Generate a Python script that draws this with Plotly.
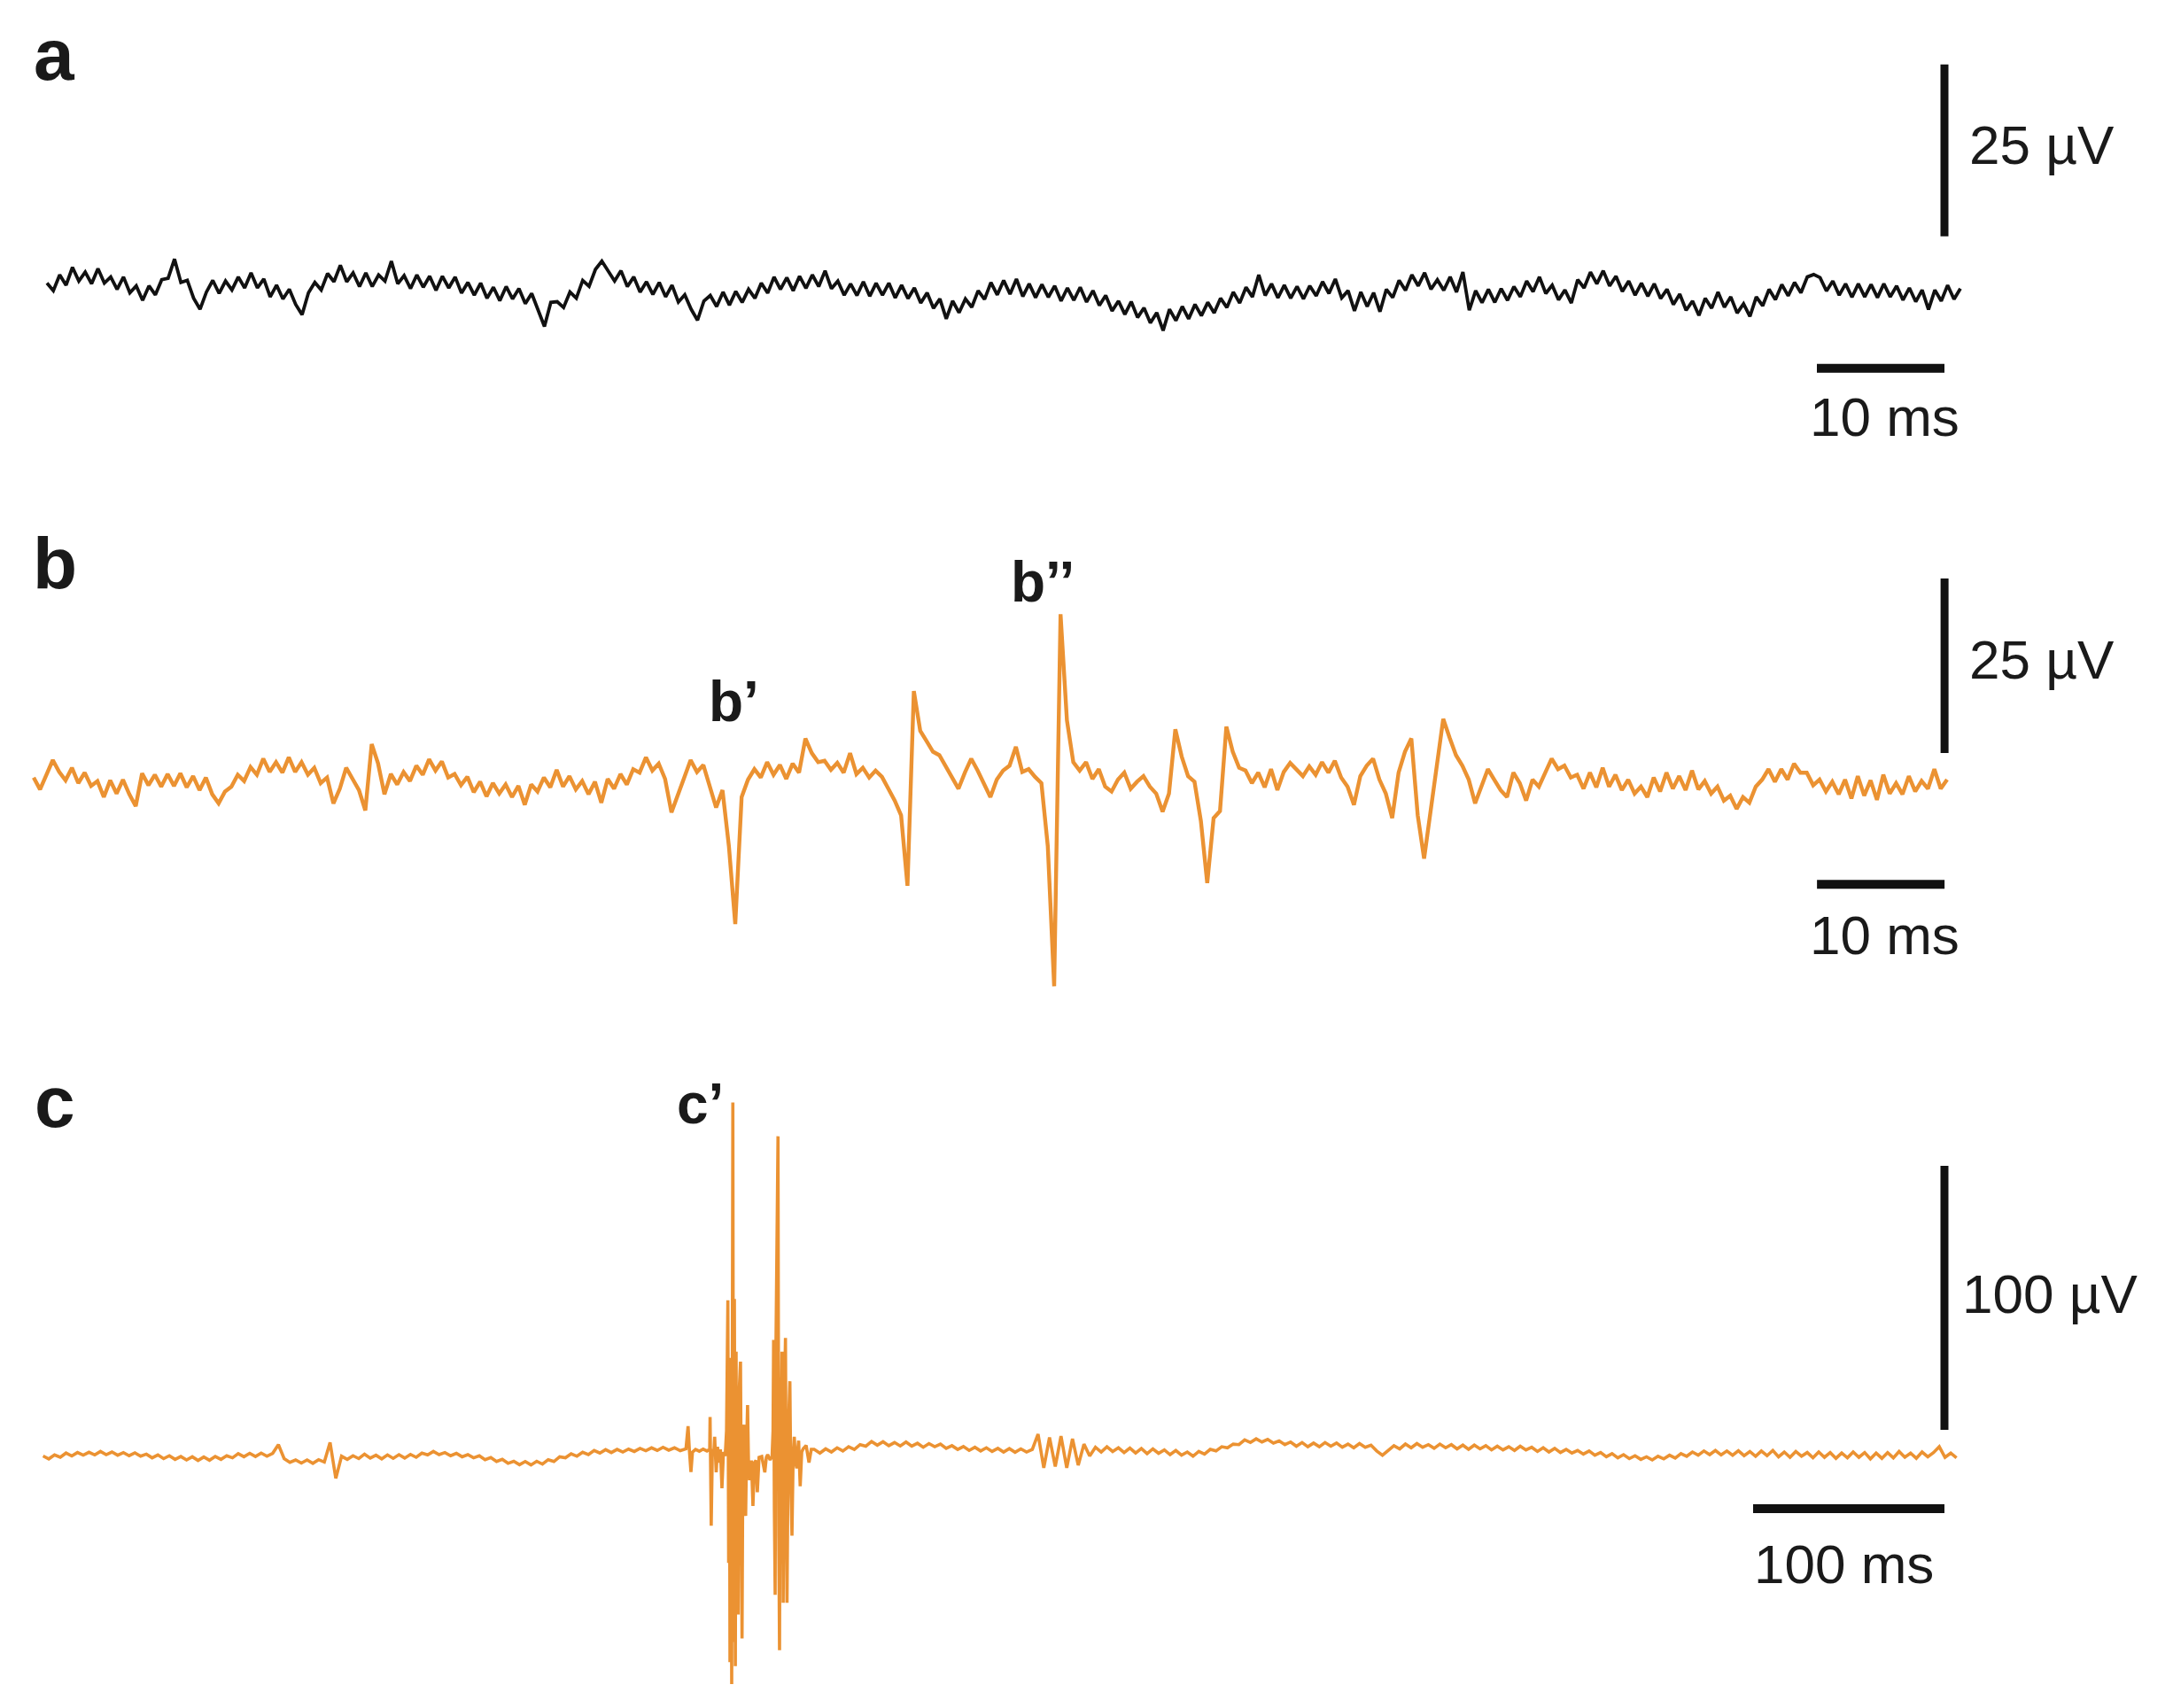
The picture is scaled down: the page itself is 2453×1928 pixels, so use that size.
import numpy as np
import plotly.graph_objects as go

# ---------------- data (µV) ----------------
# panel a: black trace, sampled every 0.5 ms
A_DT_MS = 0.5
a_uv = [1.6, 0.5, 2.8, 1.3, 3.9, 1.9, 3.2, 1.5, 3.7, 1.6, 2.5, 0.7, 2.5, 0.2, 1.2, -0.9,
        1.2, -0.1, 2.1, 2.3, 5.1, 1.7, 2.0, -0.6, -2.2, 0.3, 2.0, 0.1, 1.9, 0.6, 2.5, 0.9,
        3.1, 0.9, 2.2, -0.4, 1.3, -0.7, 0.7, -1.5, -3.0, 0.2, 1.7, 0.6, 3.0, 1.8, 4.2, 1.8,
        3.1, 1.1, 3.1, 1.1, 2.8, 1.9, 4.8, 1.5, 2.7, 0.8, 2.8, 1.0, 2.6, 0.55, 2.6, 0.9,
        2.5, 0.15, 1.7, -0.15, 1.6, -0.6, 1.0, -0.95, 1.1, -0.7, 0.8, -1.4, 0.1, -2.2,
        -4.7, -1.2, -1.1, -1.95, 0.3, -0.6, 2.0, 1.15, 3.6, 4.8, 3.4, 1.9, 3.4, 1.1, 2.5, 0.3,
        1.8, -0.05, 1.7, -0.4, 1.3, -1.15, -0.1, -2.2, -3.8, -1.0, -0.2, -1.8, 0.3, -1.6,
        0.4, -1.2, 0.7, -0.6, 1.6, 0.15, 2.5, 0.7, 2.4, 0.5, 2.6, 0.85, 2.8, 1.1, 3.4, 0.8,
        1.9, -0.15, 1.5, -0.2, 1.8, -0.3, 1.6, -0.15, 1.6, -0.55, 1.3, -0.65, 0.9, -1.3,
        0.2, -2.05, -0.7, -3.6, -1.0, -2.7, -0.7, -1.9, 0.5, -0.75, 1.7, -0.1, 2.0, 0.0,
        2.2, -0.35, 1.5, -0.5, 1.4, -0.45, 1.2, -1.0, 0.9, -0.9, 1.0, -1.15, 0.5, -1.65,
        -0.2, -2.45, -1.0, -2.95, -1.1, -3.4, -2.0, -4.2, -2.7, -5.3, -2.2, -3.85, -1.8, -3.6,
        -1.5, -3.15, -1.2, -2.75, -0.6, -1.95, 0.3, -1.3, 1.0, -0.4, 2.8, -0.2, 1.5, -0.55,
        1.3, -0.6, 1.1, -0.7, 1.2, -0.25, 1.8, 0.1, 2.2, -0.55, 0.5, -2.45, 0.3, -1.8,
        0.2, -2.55, 0.7, -0.5, 2.0, 0.55, 2.8, 1.2, 3.1, 0.7, 2.1, 0.55, 2.5, 0.3, 3.2, -2.35,
        0.5, -1.25, 0.7, -1.2, 0.8, -0.9, 1.1, -0.4, 1.9, 0.35, 2.5, 0.1, 1.3, -0.85, 0.6, -1.3,
        2.1, 0.9, 3.2, 1.5, 3.4, 1.2, 2.6, 0.4, 1.9, -0.15, 1.6, -0.3, 1.5, -0.65, 0.7, -1.5,
        0.0, -2.35, -1.0, -3.1, -0.6, -2.05, 0.3, -1.9, -0.4, -2.75, -1.4, -3.25, -0.4, -1.7,
        0.7, -0.8, 1.4, -0.25, 1.7, 0.2, 2.5, 2.85, 2.4, 0.45, 1.9, -0.15, 1.5, -0.45,
        1.5, -0.4, 1.4, -0.5, 1.5, -0.4, 1.2, -0.85, 0.9, -1.1, 0.6, -2.25, 0.6, -1.0,
        1.3, -0.75, 0.8]

# panel b: orange trace, sampled every 0.5 ms
B_DT_MS = 0.5
b_uv = [0.8, -0.9, 1.2, 3.3, 1.6, 0.4, 2.2, 0.0, 1.5, -0.4, 0.3, -2.0, 0.4, -1.5, 0.5, -1.6,
        -3.3, 1.4, -0.3, 1.2, -0.5, 1.3, -0.4, 1.4, -0.6, 1.0, -1.0, 0.8, -1.6, -2.9, -1.2, -0.5,
        1.2, 0.3, 2.3, 1.2, 3.5, 1.6, 3.0, 1.5, 3.7, 1.6, 3.0, 1.2, 2.2, 0.0, 0.8, -2.9,
        -0.8, 2.2, 0.6, -1.0, -3.9, 5.6, 2.8, -1.6, 1.3, -0.2, 1.6, 0.3, 2.5, 1.2, 3.4, 1.8,
        3.1, 0.8, 1.3, -0.3, 0.9, -1.3, 0.2, -1.9, 0.0, -1.5, -0.2, -2.0, -0.4, -3.1, -0.2, -1.2,
        0.8, -0.6, 1.9, -0.5, 1.0, -0.9, 0.3, -1.6, 0.2, -2.8, 0.6, -0.8, 1.3, -0.2, 2.0, 1.5,
        3.7, 1.8, 2.8, 0.6, -4.2, -1.5, 0.8, 3.3, 1.6, 2.6, -0.3, -3.5, -1.0, -9.0, -20.2, -2.0,
        0.5, 2.0, 0.8, 3.0, 1.2, 2.6, 0.6, 2.8, 1.5, 6.4, 4.3, 3.0, 3.2, 1.9, 2.9, 1.5,
        4.3, 1.3, 2.2, 0.8, 1.8, 0.9, -0.8, -2.5, -4.6, -14.7, 13.2, 7.5, 6.0, 4.5, 4.0, 2.4,
        1.0, -0.8, 1.5, 3.5, 1.8, 0.0, -2.0, 0.5, 1.8, 2.5, 5.2, 1.6, 2.0, 0.9, 0.0, -9.0,
        -29.1, 24.2, 9.0, 3.0, 1.8, 3.0, 0.6, 2.0, -0.5, -1.2, 0.5, 1.5, -0.8, 0.2, 1.0, -0.5,
        -1.5, -4.1, -1.5, 7.7, 3.8, 1.0, 0.2, -5.4, -14.3, -5.0, -4.0, 8.1, 4.5, 2.2, 1.8, 0.0,
        1.5, -0.6, 2.0, -1.0, 1.6, 2.9, 2.0, 1.0, 2.4, 1.2, 3.0, 1.5, 3.2, 0.8, -0.5, -3.1,
        1.0, 2.5, 3.5, 0.5, -1.5, -5.0, 1.5, 4.5, 6.4, -4.6, -10.8, -4.0, 3.0, 9.2, 6.5, 4.0,
        2.5, 0.5, -2.9, -0.5, 2.0, 0.5, -1.0, -2.0, 1.5, 0.0, -2.5, 0.5, -0.5, 1.5, 3.5, 2.0,
        2.5, 0.8, 1.2, -0.8, 1.5, -0.6, 2.2, -0.5, 1.2, -1.0, 0.5, -1.5, -0.5, -2.0, 0.8, -1.2,
        1.5, -0.8, 1.0, -1.0, 1.8, -0.9, 0.3, -1.5, -0.5, -2.5, -1.8, -3.7, -2.0, -2.8, -0.5, 0.5,
        2.0, 0.2, 2.0, 0.5, 2.8, 1.5, 1.5, -0.3, 0.5, -1.2, 0.2, -1.6, 0.5, -2.2, 1.0, -1.8,
        0.4, -2.4, 1.2, -1.5, 0.0, -1.6, 1.0, -1.2, 0.3, -0.8, 2.0, -0.8, 0.5]

# panel c: orange trace; quiet part before the burst, sampled every 3 ms from 0 ms
C_PRE_DT_MS = 3
c_pre_uv = [0.5, -0.6, 0.9, 0.0, 1.6, 0.5, 1.8, 0.8, 1.9, 0.9, 2.2, 1.0, 2.0, 0.8, 1.8, 0.6,
            1.7, 0.4, 1.2, -0.2, 0.9, -0.5, 0.6, -0.8, 0.3, -1.0, 0.2, -1.2, 0.1, -1.1, 0.3, -0.8,
            0.6, -0.2, 1.4, 0.2, 1.5, 0.3, 1.6, 0.4, 1.5, 4.8, -0.5, -1.9, -1.0, -2.2, -1.0, -2.3,
            -0.9, -1.8, 5.6, -8.0, 0.4, -0.8, 0.6, -0.5, 1.2, -0.3, 0.8, -0.6, 0.9, -0.4, 1.0, -0.3,
            1.1, 0.0, 1.6, 0.9, 2.2, 1.0, 1.8, 0.6, 1.5, 0.2, 1.0, -0.2, 0.6, -0.9, -0.1, -1.6,
            -0.8, -2.3, -1.5, -2.8, -1.6, -2.9, -1.5, -2.6, -0.9, -1.6, 0.2, -0.2, 1.3, 0.4, 1.9, 1.0,
            2.6, 1.6, 2.9, 1.8, 3.0, 2.0, 3.1, 2.2, 3.4, 2.5, 3.6, 2.6, 3.8, 2.7, 3.6, 2.5, 3.2]

# panel c: spike burst (c'), irregular sampling
c_burst_ms = [337.1, 337.8, 338.6, 339.4, 341.0, 343.0, 345.0, 347.0, 348.4, 348.6, 349.2, 349.8,
              350.5, 351.0, 351.8, 352.5, 353.2, 354.0, 354.8, 355.6, 356.5, 357.2, 357.9, 358.3,
              358.7, 359.0, 359.5, 359.9, 360.5, 360.9, 361.3, 361.8, 362.2, 362.5, 362.9, 363.3,
              363.8, 364.5, 364.9, 365.3, 365.8, 366.4, 366.8, 367.2, 367.7, 368.2, 368.7, 369.2,
              370.2, 371.0, 371.8, 372.6, 373.3, 374.2, 375.6, 376.4, 377.2, 378.0, 378.7, 380.0,
              381.0, 381.5, 381.8, 382.2, 382.6, 383.0, 383.4, 384.1, 384.5, 384.9, 385.3, 385.7,
              386.2, 386.8, 387.4, 388.0, 388.4, 388.8, 389.5, 390.3, 390.8, 391.4, 392.0, 392.6,
              393.3, 393.9, 394.4, 394.9, 395.3, 395.7, 396.5, 397.3, 398.8, 400.3, 401.5]
c_burst_uv = [11.8, 2.5, -5.6, 2.0, 3.0, 2.3, 3.1, 2.4, 3.0, 15.3, -25.9, 3.0,
              1.0, 7.8, -5.7, 4.0, -2.0, 3.0, -11.7, 2.0, 0.5, 10.0, 59.5, -40.0,
              30.0, -77.6, 37.7, -85.9, 134.4, -70.0, 60.0, -79.1, 40.0, -55.0, 12.3, -59.6,
              25.0, 36.2, -40.0, -68.6, 10.0, 12.3, -15.0, -22.2, 5.0, 19.8, -3.0, -8.7,
              -1.2, -18.4, -2.0, -1.2, -13.2, 0.0, 0.3, -3.0, -5.7, 0.0, 1.0, -1.0,
              0.3, 10.0, 44.5, -20.0, -52.1, 40.0, 80.0, 121.6, -30.0, -73.1, 30.0, 12.3,
              40.0, -55.1, 20.0, 45.2, -20.0, -55.1, 10.0, 28.8, -10.0, -29.7, 0.0, 7.8,
              -2.0, -4.2, 3.0, 6.3, -3.0, -11.0, 2.0, 3.3, 4.5, -2.0, 3.0]

# panel c: quiet part after the burst, sampled every 3 ms from 403 ms
C_POST_T0_MS = 403
C_POST_DT_MS = 3
c_post_uv = [3.0, 1.6, 3.2, 2.0, 3.6, 2.4, 4.0, 3.0, 4.8, 4.2, 6.0, 4.6, 5.9, 4.4, 5.6, 4.3,
             5.8, 4.2, 5.3, 3.8, 5.2, 4.0, 5.0, 3.4, 4.4, 3.0, 4.1, 2.6, 3.8, 2.4, 3.6, 2.2,
             3.4, 2.0, 3.3, 1.9, 3.2, 2.0, 3.0, 8.8, -4.0, 7.5, -3.5, 8.0, -4.0, 7.0, -3.0, 5.0,
             0.5, 3.8, 2.0, 4.0, 2.2, 3.6, 1.8, 3.5, 1.6, 3.3, 1.4, 3.2, 1.5, 2.8, 1.0, 2.6,
             0.8, 2.0, 0.4, 2.2, 1.2, 3.0, 2.4, 4.0, 3.6, 5.0, 4.8, 6.6, 5.6, 7.0, 5.8, 6.8,
             5.4, 6.2, 4.8, 5.8, 4.2, 5.6, 4.0, 5.4, 4.0, 5.6, 4.2, 5.4, 3.8, 5.0, 3.6, 5.2,
             3.8, 4.6, 2.4, 0.8, 2.8, 4.4, 3.2, 5.0, 3.6, 5.2, 3.8, 4.8, 3.4, 5.0, 3.6, 4.8,
             3.2, 4.6, 3.0, 4.6, 3.2, 4.4, 2.8, 4.2, 2.8, 4.0, 2.6, 4.2, 2.8, 3.8, 2.2, 3.6,
             2.0, 3.4, 1.8, 3.0, 1.6, 2.6, 1.2, 2.4, 0.8, 1.8, 0.2, 1.4, -0.2, 1.0, -0.5, 0.6,
             -0.8, 0.2, -1.0, 0.4, -0.6, 0.8, -0.3, 1.4, 0.4, 2.0, 0.8, 2.4, 1.0, 2.6, 0.9, 2.4,
             0.8, 2.5, 0.6, 2.2, 0.4, 2.4, 0.6, 2.6, 0.2, 2.0, 0.0, 2.2, 0.4, 1.8, -0.2, 2.0,
             0.0, 1.8, -0.4, 1.6, -0.2, 2.0, 0.0, 1.8, -0.6, 1.6, -0.4, 1.8, -0.2, 2.2, 0.0, 1.6,
             -0.4, 2.0, 0.2, 1.8, 4.0, 0.0, 1.6, -0.2]

# scale bars: (time length ms, voltage length µV) per panel
scale_time_ms = [10, 10, 100]
scale_volt_uv = [25, 25, 100]
scale_time_labels = ["10 ms", "10 ms", "100 ms"]
scale_volt_labels = ["25 µV", "25 µV", "100 µV"]
panel_labels = ["a", "b", "c"]

# ---------------- geometry (pixels in a 2453 x 1928 page) ----------------
W, H = 2453, 1928
BLACK = "#111111"
ORANGE = "#EB9232"

# per panel: x pixel of t=0, px per ms, y pixel of 0 µV, px per µV, panel band (top, bottom)
geo = [
    dict(x0=53.0, pxms=14.4, y0=332.0, pxuv=7.76, top=0, bot=560),
    dict(x0=38.0, pxms=14.4, y0=884.0, pxuv=7.88, top=560, bot=1150),
    dict(x0=48.6, pxms=2.16, y0=1645.0, pxuv=2.98, top=1150, bot=1928),
]
# scale bar anchors in data units: t of right end, bottom of vertical bar, level of horizontal bar
bars = [
    dict(t_end=148.75, v_bot=8.4, h_level=-10.8),
    dict(t_end=149.8, v_bot=4.3, h_level=-14.5),
    dict(t_end=993.7, v_bot=10.4, h_level=-19.5),
]

t_a = np.arange(len(a_uv)) * A_DT_MS
t_b = np.arange(len(b_uv)) * B_DT_MS
t_c_pre = np.arange(len(c_pre_uv)) * C_PRE_DT_MS
t_c_post = C_POST_T0_MS + np.arange(len(c_post_uv)) * C_POST_DT_MS
t_c = np.concatenate([t_c_pre, np.array(c_burst_ms), t_c_post])
v_c = np.concatenate([np.array(c_pre_uv), np.array(c_burst_uv), np.array(c_post_uv)])

series = [(t_a, np.array(a_uv), BLACK, 3.8), (t_b, np.array(b_uv), ORANGE, 4.4), (t_c, v_c, ORANGE, 3.6)]

fig = go.Figure()
layout_axes = {}
for i, (g, (t, v, col, lw)) in enumerate(zip(geo, series)):
    sfx = "" if i == 0 else str(i + 1)
    xa, ya = "x" + sfx, "y" + sfx
    fig.add_trace(go.Scatter(x=t, y=v, mode="lines", line=dict(color=col, width=lw),
                             xaxis=xa, yaxis=ya, hoverinfo="skip"))
    b = bars[i]
    # horizontal (time) bar
    fig.add_trace(go.Scatter(x=[b["t_end"] - scale_time_ms[i], b["t_end"]],
                             y=[b["h_level"], b["h_level"]], mode="lines",
                             line=dict(color=BLACK, width=10), xaxis=xa, yaxis=ya, hoverinfo="skip"))
    # vertical (voltage) bar
    fig.add_trace(go.Scatter(x=[b["t_end"], b["t_end"]],
                             y=[b["v_bot"], b["v_bot"] + scale_volt_uv[i]], mode="lines",
                             line=dict(color=BLACK, width=9), xaxis=xa, yaxis=ya, hoverinfo="skip"))
    xr = [-g["x0"] / g["pxms"], (W - g["x0"]) / g["pxms"]]
    yr = [(g["y0"] - g["bot"]) / g["pxuv"], (g["y0"] - g["top"]) / g["pxuv"]]
    dom_y = [1 - g["bot"] / H, 1 - g["top"] / H]
    layout_axes["xaxis" + sfx] = dict(domain=[0, 1], range=xr, visible=False, anchor=ya,
                                      showgrid=False, zeroline=False, fixedrange=True)
    layout_axes["yaxis" + sfx] = dict(domain=dom_y, range=yr, visible=False, anchor=xa,
                                      showgrid=False, zeroline=False, fixedrange=True)

FONT = "Liberation Sans, Arial, Helvetica, sans-serif"


def px_ann(text, x, y, size, bold=False, xanchor="center"):
    return dict(text=("<b>%s</b>" % text) if bold else text, x=x / W, y=1 - y / H,
                xref="paper", yref="paper", xanchor=xanchor, yanchor="middle",
                showarrow=False, font=dict(family=FONT, size=size, color="#1a1a1a"))


annotations = [
    px_ann(panel_labels[0], 62, 61, 82, bold=True),
    px_ann(panel_labels[1], 62, 636, 82, bold=True),
    px_ann(panel_labels[2], 62, 1243, 82, bold=True),
    px_ann(scale_volt_labels[0], 2221, 163, 62, xanchor="left"),
    px_ann(scale_time_labels[0], 2127, 470, 62),
    px_ann(scale_volt_labels[1], 2221, 745, 62, xanchor="left"),
    px_ann(scale_time_labels[1], 2127, 1055, 62),
    px_ann(scale_volt_labels[2], 2213, 1460, 62, xanchor="left"),
    px_ann(scale_time_labels[2], 2081, 1765, 62),
    px_ann("b\u2019", 828, 792, 64, bold=True),
    px_ann("b\u2019\u2019", 1177, 657, 64, bold=True),
    px_ann("c\u2019", 790, 1246, 64, bold=True),
]

fig.update_layout(width=W, height=H, margin=dict(l=0, r=0, t=0, b=0),
                  paper_bgcolor="white", plot_bgcolor="rgba(0,0,0,0)",
                  showlegend=False, annotations=annotations, **layout_axes)

fig.write_html("out.html", config={"displayModeBar": False, "staticPlot": True},
               post_script="document.body.style.margin='0px';document.body.style.padding='0px';")
